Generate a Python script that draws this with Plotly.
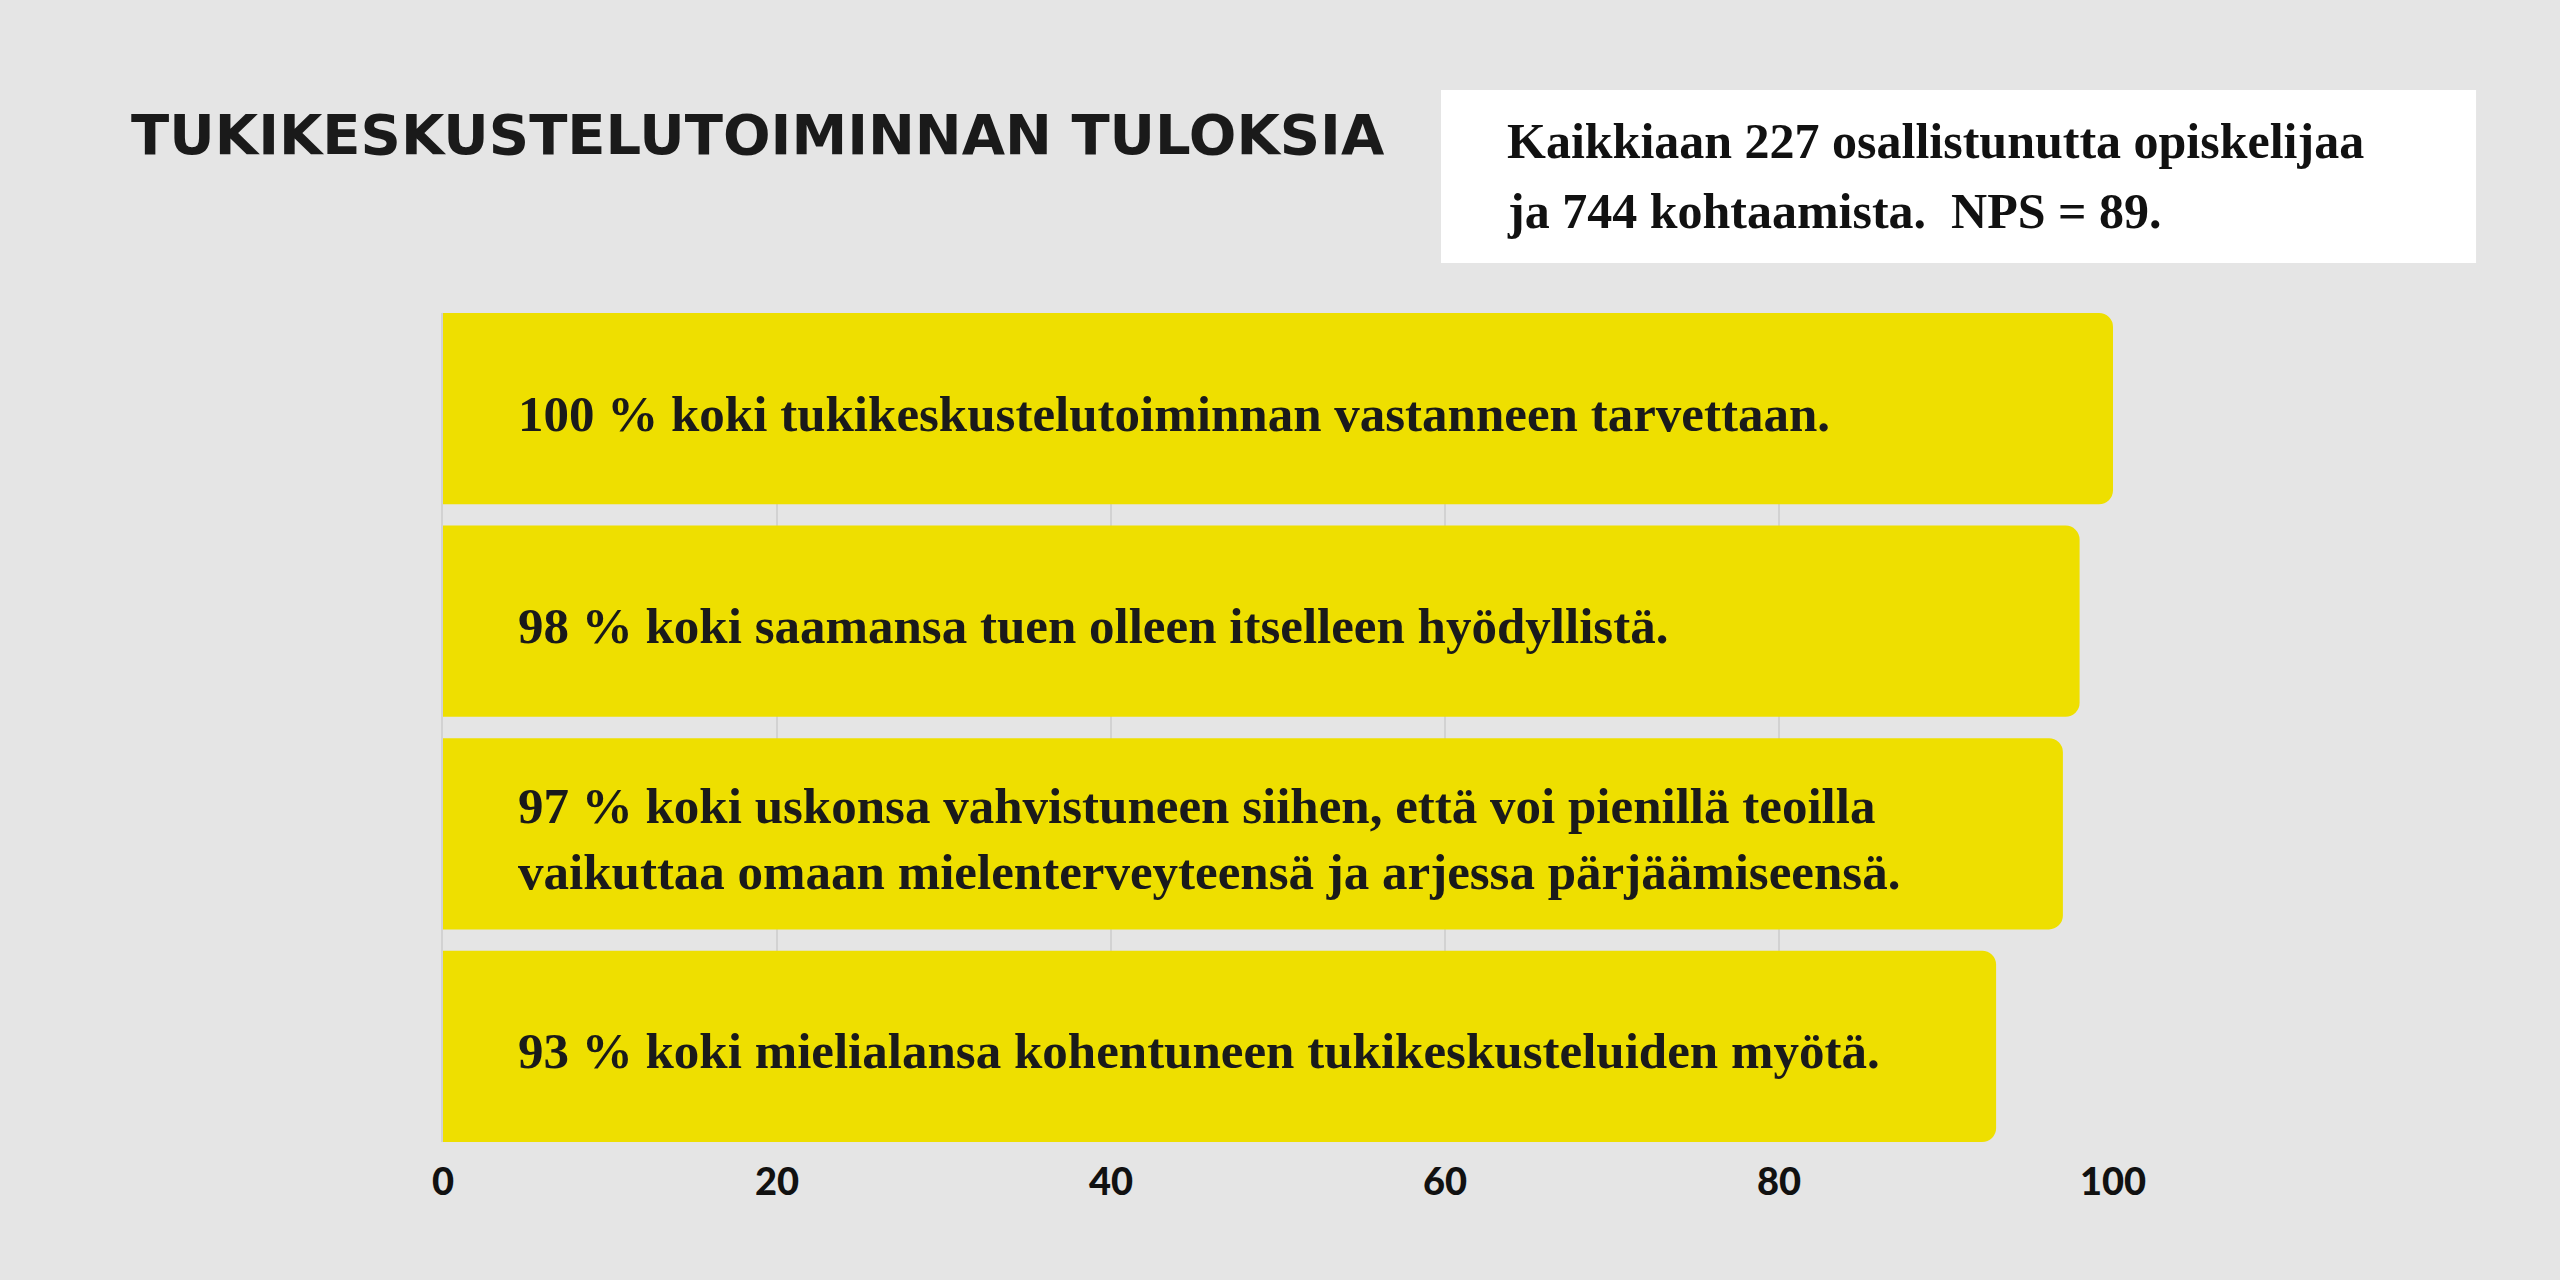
import plotly.graph_objects as go

# data
labels = [
    "100 % koki tukikeskustelutoiminnan vastanneen tarvettaan.",
    "98 % koki saamansa tuen olleen itselleen hyödyllistä.",
    "97 % koki uskonsa vahvistuneen siihen, että voi pienillä teoilla<br>vaikuttaa omaan mielenterveyteensä ja arjessa pärjäämiseensä.",
    "93 % koki mielialansa kohentuneen tukikeskusteluiden myötä.",
]
values = [100, 98, 97, 93]
tick_values = [0, 20, 40, 60, 80, 100]

title_text = "TUKIKESKUSTELUTOIMINNAN TULOKSIA"
info_lines = [
    "Kaikkiaan 227 osallistunutta opiskelijaa",
    "ja 744 kohtaamista.  NPS = 89.",
]

BG = "#e5e5e5"
YELLOW = "#eedf00"
INK = "#1a1a1a"
SERIF = "Liberation Serif"

fig = go.Figure(
    go.Bar(
        x=values,
        y=labels,
        orientation="h",
        marker=dict(color=YELLOW, line=dict(width=0)),
        hoverinfo="skip",
    )
)

# statement text sits inside each bar, near its start
for label in labels:
    fig.add_annotation(
        x=0,
        y=label,
        xref="x",
        yref="y",
        text=label,
        showarrow=False,
        xanchor="left",
        xshift=73,
        yshift=-5,
        align="left",
        font=dict(family=SERIF, size=51, color=INK, weight="bold"),
    )

# white info box in the top right
fig.add_shape(
    type="rect",
    xref="paper",
    yref="paper",
    x0=0.5976,
    x1=1.2174,
    y0=1.0603,
    y1=1.269,
    fillcolor="white",
    line=dict(width=0),
    layer="below",
)
for line, ypos in zip(info_lines, [1.2075, 1.123]):
    fig.add_annotation(
        x=0.636,
        y=ypos,
        xref="paper",
        yref="paper",
        text=line,
        showarrow=False,
        xanchor="left",
        yanchor="middle",
        font=dict(family=SERIF, size=50, color="#111111", weight="bold"),
    )

fig.update_layout(
    width=2560,
    height=1280,
    paper_bgcolor=BG,
    plot_bgcolor=BG,
    showlegend=False,
    bargap=0.1,
    barcornerradius=14,
    margin=dict(l=443, r=447, t=313, b=138),
    title=dict(
        text=title_text,
        xref="container",
        yref="container",
        x=0.0512,
        y=0.8953,
        xanchor="left",
        yanchor="middle",
        font=dict(family="DejaVu Sans", size=56, color=INK, weight="bold"),
    ),
)
fig.update_xaxes(
    range=[0, 100],
    tickvals=tick_values,
    showgrid=True,
    gridcolor="#d2d2d2",
    gridwidth=1.5,
    zeroline=False,
    showline=False,
    ticks="",
    ticklabelstandoff=14,
    tickfont=dict(family="Lato", size=38, color="#111111", weight=900),
)
fig.update_yaxes(
    range=[3.45, -0.45],
    showticklabels=False,
    showgrid=False,
    zeroline=False,
    showline=True,
    linecolor="#d2d2d2",
    linewidth=1.5,
)

fig.write_html(
    "out.html",
    config={"displayModeBar": False},
    post_script="document.body.style.margin = '0';",
)
